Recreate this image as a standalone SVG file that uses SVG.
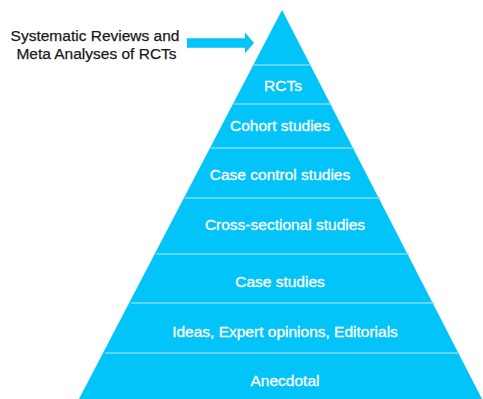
<svg xmlns="http://www.w3.org/2000/svg" width="483" height="399" viewBox="0 0 483 399">
  <style>
    .tier { fill: #03c4f8; }
    .divider { stroke: #80ddfb; stroke-width: 1.5; fill: none; }
    .label { font-family: "Liberation Sans", Arial, Helvetica, sans-serif; font-size: 15.5px; fill: #ffffff; stroke: #ffffff; stroke-width: 0.3; text-anchor: middle; }
    .caption { font-family: "Liberation Sans", Arial, Helvetica, sans-serif; font-size: 15.5px; fill: #1a1a1a; stroke: #1a1a1a; stroke-width: 0.25; text-anchor: middle; }
    .pointer { fill: #03c4f8; }
  </style>

  <!-- Evidence pyramid body -->
  <g id="pyramid">
    <polygon class="tier" points="282,10 79,399 482,399"/>
  </g>

  <!-- Tier separators -->
  <g id="connectors">
    <line class="divider" x1="254" y1="65" x2="311" y2="65"/>
    <line class="divider" x1="234" y1="104" x2="331" y2="104"/>
    <line class="divider" x1="211" y1="148" x2="354" y2="148"/>
    <line class="divider" x1="185" y1="198" x2="380" y2="198"/>
    <line class="divider" x1="156" y1="254" x2="409" y2="254"/>
    <line class="divider" x1="131" y1="303" x2="434" y2="303"/>
    <line class="divider" x1="105" y1="353" x2="459" y2="353"/>
    <!-- arrow pointing at the apex -->
    <polygon class="pointer" points="187,38.3 245,38.3 245,32.5 254,43 245,53.3 245,47.7 187,47.7"/>
  </g>

  <g id="top-caption">
    <text class="caption" x="95" y="41">Systematic Reviews and</text>
    <text class="caption" x="96.5" y="58.5">Meta Analyses of RCTs</text>
  </g>

  <g id="rcts"><text class="label" x="283" y="91">RCTs</text></g>
  <g id="cohort"><text class="label" x="280" y="131">Cohort studies</text></g>
  <g id="case-control"><text class="label" x="280" y="180">Case control studies</text></g>
  <g id="cross-sectional"><text class="label" x="285" y="230">Cross-sectional studies</text></g>
  <g id="case-studies"><text class="label" x="280" y="286.5">Case studies</text></g>
  <g id="ideas"><text class="label" x="285" y="336.5">Ideas, Expert opinions, Editorials</text></g>
  <g id="anecdotal"><text class="label" x="285" y="385.5">Anecdotal</text></g>
</svg>
